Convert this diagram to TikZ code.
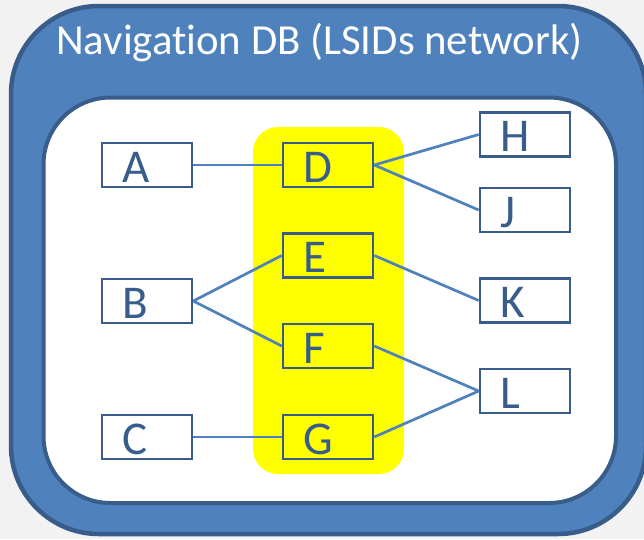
\documentclass[tikz,border=0pt]{standalone}
\usepackage{fontspec}
\setmainfont[Ligatures=CommonOff]{Carlito}
\definecolor{bgc}{HTML}{F2F2F2}
\definecolor{acc}{HTML}{4F81BD}
\definecolor{dk}{HTML}{385D8A}
\definecolor{yel}{HTML}{FFFF00}
\newcommand\lettxt[1]{\makebox[50pt][l]{#1}}
\begin{document}
\begin{tikzpicture}[x=1pt,y=-1pt,
  outerbox/.style={draw=dk,fill=acc,line width=4.5pt,rounded corners=88pt},
  innerbox/.style={draw=dk,fill=white,line width=4pt,rounded corners=67pt},
  hilite/.style={fill=yel,rounded corners=25pt},
  lsid/.style={draw=dk,line width=2.6pt,minimum width=90pt,minimum height=44pt,
    inner xsep=20pt,inner ysep=0pt,text height=39pt,text depth=5pt,
    text=dk,font=\fontsize{47}{47}\selectfont,anchor=center},
  link/.style={draw=acc,line width=2.7pt},
  title/.style={text=white,font=\fontsize{42.8}{43}\selectfont,anchor=base west,inner sep=0pt}]
\fill[bgc] (0,0) rectangle (644,539);
\useasboundingbox (0,0) rectangle (644,539);
\draw[outerbox] (11,6) rectangle (646,534);
\draw[innerbox] (43.5,97.5) rectangle (616,503);
\fill[hilite] (253,127) rectangle (404,474);
\node[title] (T) at (56,54) {Navigation DB (LSIDs network)};
\node[lsid] (A) at (147,165) {\lettxt{A}};
\node[lsid] (B) at (147,301) {\lettxt{B}};
\node[lsid] (C) at (147,437) {\lettxt{C}};
\node[lsid] (D) at (328,165) {\lettxt{D}};
\node[lsid] (E) at (328,255.5) {\lettxt{E}};
\node[lsid] (F) at (328,346) {\lettxt{F}};
\node[lsid] (G) at (328,437) {\lettxt{G}};
\node[lsid] (H) at (525,134.5) {\lettxt{H}};
\node[lsid] (J) at (525,210) {\lettxt{J}};
\node[lsid] (K) at (525,300.5) {\lettxt{K}};
\node[lsid] (L) at (525,391) {\lettxt{L}};
\draw[link] (A.east) -- (D.west);
\draw[link] (B.east) -- (E.west);
\draw[link] (B.east) -- (F.west);
\draw[link] (C.east) -- (G.west);
\draw[link] (D.east) -- (H.west);
\draw[link] (D.east) -- (J.west);
\draw[link] (E.east) -- (K.west);
\draw[link] (F.east) -- (L.west);
\draw[link] (G.east) -- (L.west);
\end{tikzpicture}
\end{document}
